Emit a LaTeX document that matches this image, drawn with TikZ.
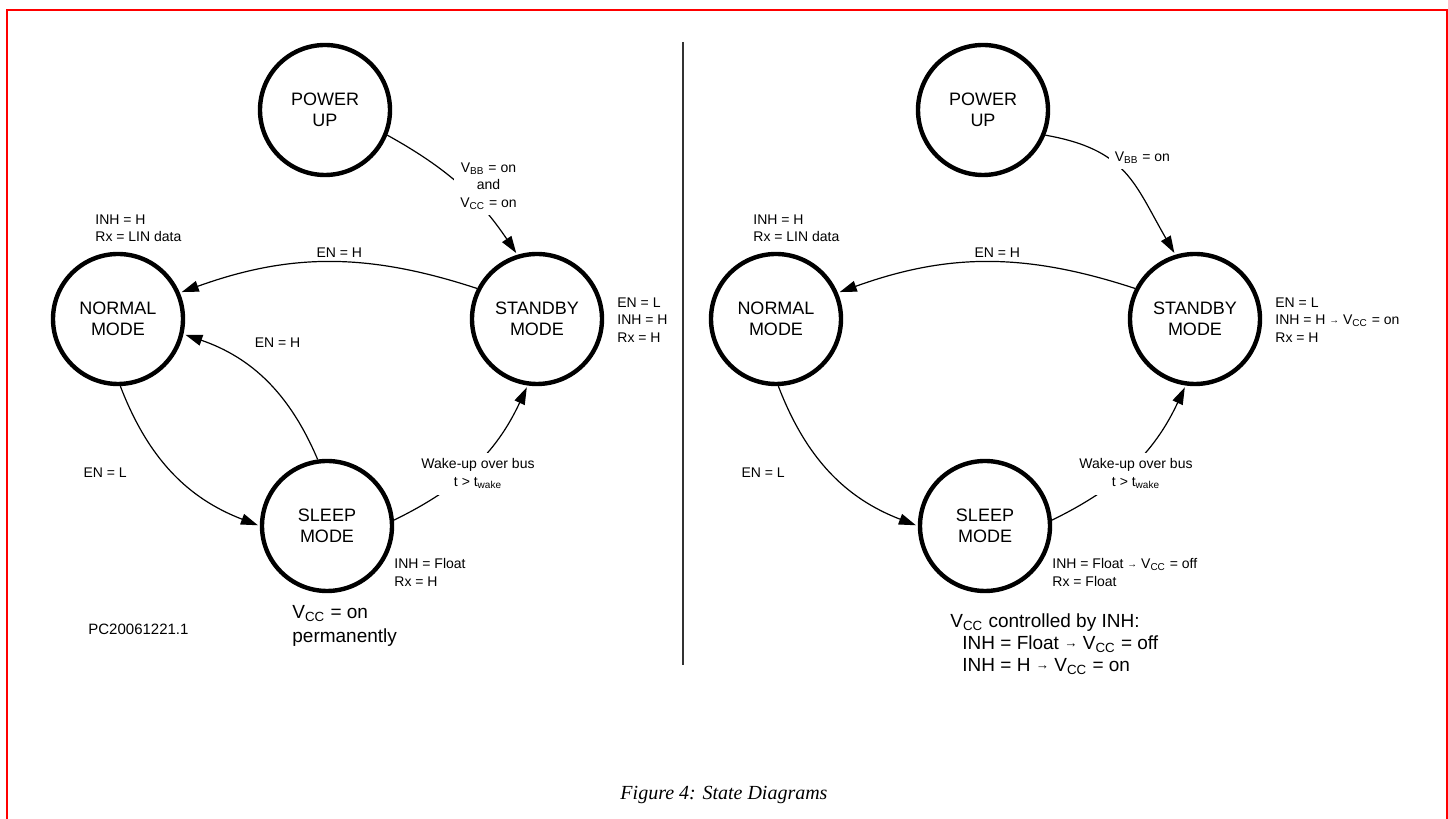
\documentclass[tikz,border=0pt]{standalone}
\usepackage{fontspec}
\setmainfont{Liberation Sans}
\newfontfamily\capfont{Liberation Serif}
\usetikzlibrary{arrows.meta}

\newcommand{\smallto}{\raisebox{.15ex}{\scalebox{.7}{→}}}

\def\dX{658}

\begin{document}
\begin{tikzpicture}[x=0.5pt, y=0.5pt,
    state/.style={shape=circle, draw=black, line width=2.2pt, minimum size=65pt, inner sep=0pt,
                  align=center, font=\fontsize{9}{10.5}\selectfont},
    lbl/.style={font=\fontsize{7}{8.75}\selectfont, align=center, inner sep=0pt},
    cut/.style={lbl, fill=white, inner sep=3pt},
    note/.style={font=\fontsize{7}{8.75}\selectfont, align=left, inner sep=0pt, anchor=north west},
    big/.style={font=\fontsize{9.5}{12}\selectfont, align=left, inner sep=0pt, anchor=north west},
    trans/.style={-{Triangle[length=8.5pt,width=5.5pt]}, line width=0.6pt, shorten >=1pt}]

    \useasboundingbox (0,0) rectangle (1448,819);
    \draw[red, line width=1.4pt] (7,-20) rectangle (1447,809);

    %% left: Vcc on permanently
    \node[state] (PU1) at (325,709) {POWER\\UP};
    \node[state] (NM1) at (118,500) {NORMAL\\MODE};
    \node[state] (SB1) at (537,500) {STANDBY\\MODE};
    \node[state] (SL1) at (327,293) {SLEEP\\MODE};

    \path[trans] (PU1.-22) edge[out=-29, in=124] node[cut, xshift=14pt] {V\textsubscript{BB} = on\\and\\V\textsubscript{CC} = on} (SB1.107);
    \path[trans] (SB1.153) edge[bend right=19] node[lbl, above=2pt, pos=.46] {EN = H} (NM1.23);
    \path[trans] (NM1.-88) edge[out=-69, in=159] node[lbl, left=23pt] {EN = L} (SL1.180);
    \path[trans] (SL1.98)  edge[out=113, in=-19] node[lbl, xshift=6pt, yshift=19pt] {EN = H} (NM1.-13);
    \path[trans] (SL1.5)   edge[out=26, in=-115] node[cut, xshift=2pt, yshift=-4pt] {Wake-up over bus\\t > t\textsubscript{wake}} (SB1.-98);

    \node[note] (NMnote1) at (95,605)  {INH = H\\Rx = LIN data};
    \node[note] (SBnote1) at (617,522) {EN = L\\INH = H\\Rx = H};
    \node[note] (SLnote1) at (394,261) {INH = Float\\Rx = H};
    \node[big]  (VCC1)    at (292,214) {V\textsubscript{CC} = on\\permanently};
    \node[note, font=\fontsize{7.5}{9}\selectfont] (PCnum) at (88,195) {PC20061221.1};

    %% divider
    \coordinate (divtop) at (683,777);
    \coordinate (divbot) at (683,154);
    \draw[line width=1pt, black!80] (divtop) -- (divbot);

    %% right: Vcc controlled by INH
    \node[state] (PU2) at ({325+\dX},709) {POWER\\UP};
    \node[state] (NM2) at ({118+\dX},500) {NORMAL\\MODE};
    \node[state] (SB2) at ({537+\dX},500) {STANDBY\\MODE};
    \node[state] (SL2) at ({327+\dX},293) {SLEEP\\MODE};

    \path[trans] (PU2.-22) edge[out=-10, in=120, looseness=1.2] node[cut, xshift=8.5pt, yshift=8pt] {V\textsubscript{BB} = on} (SB2.107);
    \path[trans] (SB2.153) edge[bend right=19] node[lbl, above=2pt, pos=.46] {EN = H} (NM2.23);
    \path[trans] (NM2.-88) edge[out=-69, in=159] node[lbl, left=23pt] {EN = L} (SL2.180);
    \path[trans] (SL2.5)   edge[out=26, in=-115] node[cut, xshift=2pt, yshift=-4pt] {Wake-up over bus\\t > t\textsubscript{wake}} (SB2.-98);

    \node[note] (NMnote2) at ({95+\dX},605)  {INH = H\\Rx = LIN data};
    \node[note] (SBnote2) at ({617+\dX},522) {EN = L\\INH = H \smallto{} V\textsubscript{CC} = on\\Rx = H};
    \node[note] (SLnote2) at ({394+\dX},261) {INH = Float \smallto{} V\textsubscript{CC} = off\\Rx = Float};
    \node[big, font=\fontsize{9.5}{11}\selectfont] (VCC2) at (950,206)
        {V\textsubscript{CC} controlled by INH:\\\hspace*{6pt}INH = Float \smallto{} V\textsubscript{CC} = off\\\hspace*{6pt}INH = H \smallto{} V\textsubscript{CC} = on};

    \node[font=\capfont\itshape\fontsize{10}{12}\selectfont] (caption) at (724,24) {Figure 4: State Diagrams};

\end{tikzpicture}
\end{document}
